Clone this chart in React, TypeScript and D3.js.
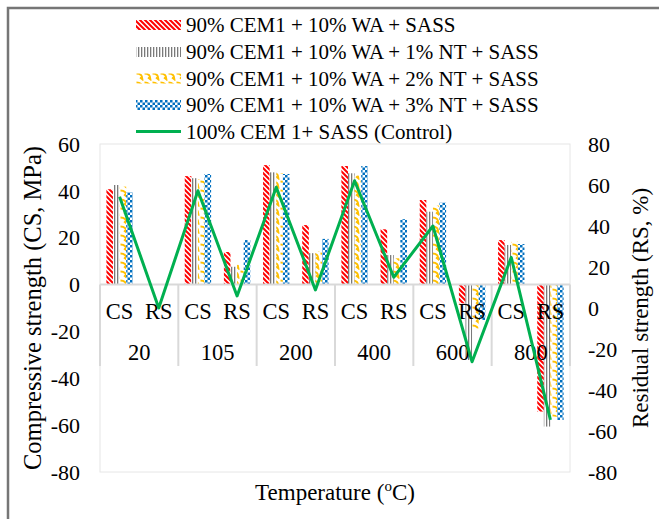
import * as d3 from 'd3'
import { useEffect, useRef } from 'react'

const GROUPS = ['20', '105', '200', '400', '600', '800']
const SUBS = ['CS', 'RS']
const SERIES = [
  '90% CEM1 + 10% WA + SASS',
  '90% CEM1 + 10% WA + 1% NT + SASS',
  '90% CEM1 + 10% WA + 2% NT + SASS',
  '90% CEM1 + 10% WA + 3% NT + SASS',
]
const CONTROL_NAME = '100% CEM 1+ SASS (Control)'

// one value per category: 20 CS, 20 RS, 105 CS, 105 RS, ...
const WA0 = [40.7, 0, 46.3, 13.9, 51.0, 25.4, 50.6, 23.6, 36.1, -8.0, 19.0, -54.2]
const WA1 = [42.5, 0, 45.4, 7.6, 47.9, 13.4, 47.5, 12.6, 31.1, -32.2, 16.9, -60.6]
const WA2 = [41.8, 0, 44.9, 8.4, 47.5, 14.1, 46.5, 11.2, 33.7, -18.7, 18.3, -56.4]
const WA3 = [39.4, 0, 47.2, 19.0, 47.2, 19.5, 50.6, 27.9, 35.0, -15.1, 17.3, -57.8]
const CONTROL = [54.3, 0, 57.2, 5.9, 58.9, 8.8, 62.1, 15.0, 40.0, -26.2, 24.7, -54.6]

const LEFT_TICKS = [-80, -60, -40, -20, 0, 20, 40, 60]
const RIGHT_TICKS = [-80, -60, -40, -20, 0, 20, 40, 60, 80]

export default function App() {
  const ref = useRef<HTMLDivElement>(null)

  useEffect(() => {
    const width = 659
    const height = 519
    const plotLeft = 100
    const plotRight = 570
    const plotTop = 144
    const plotBottom = 472

    const cats = GROUPS.flatMap((g) => SUBS.map((s) => `${g}|${s}`))
    const values = [WA0, WA1, WA2, WA3]

    const x0 = d3.scaleBand().domain(cats).range([plotLeft, plotRight])
    const x1 = d3
      .scaleBand()
      .domain(SERIES)
      .range([0, x0.bandwidth()])
      .paddingOuter(0.97)
    const yL = d3.scaleLinear().domain([-80, 60]).range([plotBottom, plotTop])
    const yR = d3.scaleLinear().domain([-80, 80]).range([plotBottom, plotTop])

    const svg = d3
      .create('svg')
      .attr('width', width)
      .attr('height', height)
      .attr('viewBox', [0, 0, width, height])
      .attr('font-family', 'Liberation Serif, Times New Roman, serif')
      .attr('style', 'position:absolute;left:0;top:0;background:#fff')

    /* pattern fills */
    const defs = svg.append('defs')
    const red = defs
      .append('pattern')
      .attr('id', 'p0')
      .attr('patternUnits', 'userSpaceOnUse')
      .attr('width', 5)
      .attr('height', 5)
    red.append('rect').attr('width', 5).attr('height', 5).attr('fill', '#fff')
    red
      .append('path')
      .attr('d', 'M-1,-1L6,6M-1,4L1,6M4,-1L6,1')
      .attr('stroke', '#ff0000')
      .attr('stroke-width', 2)

    const grey = defs
      .append('pattern')
      .attr('id', 'p1')
      .attr('patternUnits', 'userSpaceOnUse')
      .attr('width', 3)
      .attr('height', 3)
    grey.append('rect').attr('width', 3).attr('height', 3).attr('fill', '#fff')
    grey.append('rect').attr('width', 1.3).attr('height', 3).attr('fill', '#7a7a7a')

    const yel = defs
      .append('pattern')
      .attr('id', 'p2')
      .attr('patternUnits', 'userSpaceOnUse')
      .attr('width', 8)
      .attr('height', 9)
    yel.append('rect').attr('width', 8).attr('height', 9).attr('fill', '#fff')
    yel
      .append('path')
      .attr('d', 'M0.5,1.5Q6.5,1.5 6.5,7.5L4,5.5')
      .attr('fill', 'none')
      .attr('stroke', '#ffc000')
      .attr('stroke-width', 1.8)

    const blue = defs
      .append('pattern')
      .attr('id', 'p3')
      .attr('patternUnits', 'userSpaceOnUse')
      .attr('width', 5)
      .attr('height', 5)
    blue.append('rect').attr('width', 5).attr('height', 5).attr('fill', '#fff')
    blue.append('rect').attr('width', 2.5).attr('height', 2.5).attr('fill', '#0070c0')
    blue
      .append('rect')
      .attr('x', 2.5)
      .attr('y', 2.5)
      .attr('width', 2.5)
      .attr('height', 2.5)
      .attr('fill', '#0070c0')

    /* outer frame (only top and left visible) */
    svg
      .append('path')
      .attr('d', `M8,${height}V8H${width}`)
      .attr('fill', 'none')
      .attr('stroke', '#767676')
      .attr('stroke-width', 2.5)

    /* plot area border */
    svg
      .append('rect')
      .attr('x', plotLeft)
      .attr('y', plotTop)
      .attr('width', plotRight - plotLeft)
      .attr('height', plotBottom - plotTop)
      .attr('fill', 'none')
      .attr('stroke', '#e6e6e6')
      .attr('stroke-width', 1)

    /* bars */
    SERIES.forEach((s, si) => {
      svg
        .append('g')
        .attr('fill', `url(#p${si})`)
        .selectAll('rect')
        .data(values[si].map((v, i) => ({ cat: cats[i], v })))
        .join('rect')
        .attr('x', (d) => (x0(d.cat) as number) + (x1(s) as number))
        .attr('y', (d) => yL(Math.max(0, d.v)))
        .attr('width', x1.bandwidth())
        .attr('height', (d) => Math.abs(yL(d.v) - yL(0)))
    })

    /* category axis (multi-level) */
    const axis = svg.append('g').attr('stroke', '#d9d9d9').attr('stroke-width', 2)
    axis
      .append('line')
      .attr('x1', plotLeft)
      .attr('x2', plotRight)
      .attr('y1', yL(0))
      .attr('y2', yL(0))
    axis
      .selectAll('line.sep')
      .data(d3.range(GROUPS.length + 1))
      .join('line')
      .attr('class', 'sep')
      .attr('x1', (i) => plotLeft + ((plotRight - plotLeft) / GROUPS.length) * i)
      .attr('x2', (i) => plotLeft + ((plotRight - plotLeft) / GROUPS.length) * i)
      .attr('y1', yL(0))
      .attr('y2', 366)

    svg
      .append('g')
      .attr('font-size', 22.5)
      .attr('text-anchor', 'middle')
      .selectAll('text')
      .data(cats)
      .join('text')
      .attr('x', (c) => (x0(c) as number) + x0.bandwidth() / 2)
      .attr('y', 311)
      .attr('dy', '0.35em')
      .text((c) => c.split('|')[1])

    svg
      .append('g')
      .attr('font-size', 22.5)
      .attr('text-anchor', 'middle')
      .selectAll('text')
      .data(GROUPS)
      .join('text')
      .attr('x', (g) => (x0(`${g}|CS`) as number) + x0.bandwidth())
      .attr('y', 352)
      .attr('dy', '0.35em')
      .text((g) => g)

    /* control line on secondary axis */
    const line = d3
      .line<number>()
      .x((_, i) => (x0(cats[i]) as number) + x0.bandwidth() / 2)
      .y((d) => yR(d))
    svg
      .append('path')
      .datum(CONTROL)
      .attr('d', line)
      .attr('fill', 'none')
      .attr('stroke', '#00b050')
      .attr('stroke-width', 3)
      .attr('stroke-linejoin', 'round')

    /* value axes */
    svg
      .append('g')
      .attr('font-size', 22)
      .attr('text-anchor', 'end')
      .selectAll('text')
      .data(LEFT_TICKS)
      .join('text')
      .attr('x', 80)
      .attr('y', (d) => yL(d))
      .attr('dy', '0.35em')
      .text((d) => d)

    svg
      .append('g')
      .attr('font-size', 22)
      .attr('text-anchor', 'start')
      .selectAll('text')
      .data(RIGHT_TICKS)
      .join('text')
      .attr('x', 588)
      .attr('y', (d) => yR(d))
      .attr('dy', '0.35em')
      .text((d) => d)

    /* axis titles */
    svg
      .append('text')
      .attr('transform', `translate(32, ${(plotTop + plotBottom) / 2}) rotate(-90)`)
      .attr('text-anchor', 'middle')
      .attr('dy', '0.35em')
      .attr('font-size', 24.5)
      .text('Compressive strength (CS, MPa)')

    svg
      .append('text')
      .attr('transform', `translate(640, ${(plotTop + plotBottom) / 2}) rotate(-90)`)
      .attr('text-anchor', 'middle')
      .attr('dy', '0.35em')
      .attr('font-size', 23)
      .text('Residual strength (RS, %)')

    const xt = svg
      .append('text')
      .attr('x', (plotLeft + plotRight) / 2)
      .attr('y', 492)
      .attr('dy', '0.35em')
      .attr('text-anchor', 'middle')
      .attr('font-size', 23)
    xt.append('tspan').text('Temperature (')
    xt.append('tspan').attr('font-size', 15).attr('dy', '-0.6em').text('o')
    xt.append('tspan').attr('dy', '0.4em').text('C)')

    /* legend */
    const legendY = [25, 52, 78.5, 105, 131.5]
    const lg = svg.append('g').attr('font-size', 21)
    SERIES.forEach((s, si) => {
      lg.append('rect')
        .attr('x', 136)
        .attr('y', legendY[si] - 5)
        .attr('width', 45)
        .attr('height', 10)
        .attr('fill', `url(#p${si})`)
      lg.append('text')
        .attr('x', 186)
        .attr('y', legendY[si])
        .attr('dy', '0.35em')
        .text(s)
    })
    lg.append('line')
      .attr('x1', 136)
      .attr('x2', 181)
      .attr('y1', legendY[4])
      .attr('y2', legendY[4])
      .attr('stroke', '#00b050')
      .attr('stroke-width', 3)
    lg.append('text')
      .attr('x', 186)
      .attr('y', legendY[4])
      .attr('dy', '0.35em')
      .text(CONTROL_NAME)

    const node = svg.node()
    if (ref.current && node) {
      ref.current.innerHTML = ''
      ref.current.appendChild(node)
    }
  }, [])

  return <div ref={ref} />
}
